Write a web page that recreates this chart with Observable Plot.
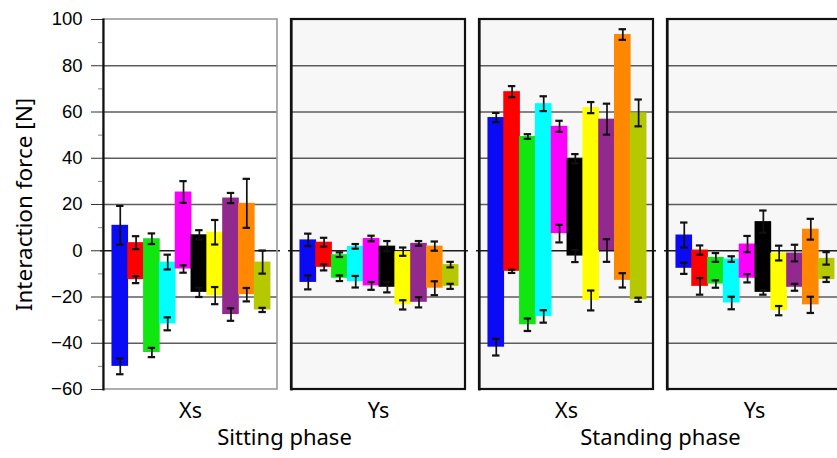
<!DOCTYPE html>
<html>
<head>
<meta charset="utf-8">
<script src="https://cdn.jsdelivr.net/npm/d3@7"></script>
<script src="https://cdn.jsdelivr.net/npm/@observablehq/plot@0.6"></script>
<style>
  html, body { margin: 0; padding: 0; background: #fff; }
  #wrap { width: 837px; height: 458px; overflow: hidden; position: relative; }
  #wrap svg { max-width: none !important; }
</style>
</head>
<body>
<div id="wrap"></div>
<script>
// ---- Data ----
const subjects = ["S1", "S2", "S3", "S4", "S5", "S6", "S7", "S8", "S9", "S10"];
const subjectColors = ["#0a0af5", "#ff0000", "#10e610", "#00ffff", "#ff00ff", "#000000", "#ffff00", "#922a8e", "#ff8800", "#b5c800"];
const panels = ["Sitting Xs", "Sitting Ys", "Standing Xs", "Standing Ys"];
const phaseLabels = ["Sitting phase", "Standing phase"];
const phasePanels = ["Sitting Ys", "Standing Ys"];
const yTicks = [-60, -40, -20, 0, 20, 40, 60, 80, 100];
const yMinorTicks = [-50, -30, -10, 10, 30, 50, 70, 90];
const gridValues = [-40, -20, 20, 40, 60, 80];

// Sitting phase, Xs
const sitXsHigh    = [11.0, 3.5, 5.2, -4.9, 25.4, 6.9, 8.0, 22.8, 20.5, -4.9];
const sitXsHighErr = [8.4, 2.8, 2.3, 3.2, 4.7, 2.0, 5.3, 2.2, 10.6, 5.0];
const sitXsLow     = [-50.0, -12.5, -44.0, -31.6, -7.9, -18.0, -19.4, -27.6, -19.0, -25.6];
const sitXsLowErr  = [3.4, 1.5, 2.0, 2.8, 1.6, 2.0, 3.7, 2.7, 2.9, 0.9];
// Sitting phase, Ys
const sitYsHigh    = [4.7, 3.7, -1.7, 1.9, 5.3, 2.0, -0.4, 3.2, 2.0, -6.0];
const sitYsHighErr = [2.7, 1.9, 1.0, 1.0, 1.2, 2.2, 1.8, 1.0, 2.0, 1.2];
const sitYsLow     = [-13.7, -7.2, -11.9, -13.4, -15.2, -15.8, -23.4, -22.3, -16.2, -15.4];
const sitYsLowErr  = [3.0, 1.3, 1.2, 2.5, 1.7, 2.2, 2.0, 2.2, 3.0, 1.1];
// Standing phase, Xs
const stdXsHigh    = [57.6, 68.8, 49.4, 63.6, 53.8, 39.8, 61.9, 56.9, 93.5, 59.6];
const stdXsHighErr = [2.0, 2.4, 1.0, 3.2, 2.4, 2.0, 2.4, 6.7, 2.3, 5.8];
const stdXsLow     = [-41.7, -8.9, -32.0, -28.4, 7.4, -2.3, -21.5, 0.1, -12.8, -21.2];
const stdXsLowErr  = [3.6, 0.7, 2.7, 2.7, 3.8, 2.6, 4.3, 4.9, 3.1, 0.9];
// Standing phase, Ys
const stdYsHigh    = [6.8, 0.3, -2.9, -3.6, 2.9, 12.6, -1.0, -1.0, 9.3, -3.3];
const stdYsHighErr = [5.4, 2.0, 1.9, 1.2, 3.5, 4.8, 3.2, 3.6, 4.5, 2.7];
const stdYsLow     = [-7.6, -15.4, -14.4, -22.6, -11.9, -18.0, -25.9, -15.8, -23.4, -12.5];
const stdYsLowErr  = [2.4, 3.6, 1.6, 2.7, 1.8, 1.0, 2.0, 1.5, 3.5, 1.0];

// ---- Build tables ----
const series = [
  [sitXsHigh, sitXsHighErr, sitXsLow, sitXsLowErr],
  [sitYsHigh, sitYsHighErr, sitYsLow, sitYsLowErr],
  [stdXsHigh, stdXsHighErr, stdXsLow, stdXsLowErr],
  [stdYsHigh, stdYsHighErr, stdYsLow, stdYsLowErr]
];
const rows = [];
const errs = [];
panels.forEach((p, pi) => {
  const [hi, hiE, lo, loE] = series[pi];
  subjects.forEach((s, i) => {
    rows.push({panel: p, subject: s, high: hi[i], low: lo[i]});
    errs.push({panel: p, subject: s, center: hi[i], err: hiE[i]});
    errs.push({panel: p, subject: s, center: lo[i], err: loE[i]});
  });
});
const caps = errs.flatMap(e => [
  {panel: e.panel, subject: e.subject, y: e.center + e.err},
  {panel: e.panel, subject: e.subject, y: e.center - e.err}
]);
const firstPanel = panels.slice(0, 1).map(p => ({panel: p}));
const otherPanels = panels.slice(1).map(p => ({panel: p}));
const phases = phaseLabels.map((t, i) => ({label: t, panel: phasePanels[i]}));

const font = "'Noto Sans', 'DejaVu Sans', sans-serif";

const chart = Plot.plot({
  width: 850,
  height: 458,
  marginLeft: 102,
  marginRight: 7,
  marginTop: 19,
  marginBottom: 69,
  style: {fontFamily: font, background: "white", color: "black", overflow: "visible", maxWidth: "none"},
  fx: {domain: panels, paddingInner: 0.0725, paddingOuter: 0, label: null},
  x: {domain: subjects, paddingInner: 0, paddingOuter: 0.5, align: 0.56, round: false, axis: null},
  y: {domain: [-60, 100], label: null},
  color: {domain: subjects, range: subjectColors},
  marks: [
    Plot.rect(firstPanel, {fx: "panel", fill: "white"}),
    Plot.rect(otherPanels, {fx: "panel", fill: "#f7f7f7"}),
    Plot.ruleY(gridValues, {stroke: "#5c5c5c", strokeWidth: 1.4}),
    Plot.ruleY([0], {stroke: "#1a1a1a", strokeWidth: 1.7, insetLeft: -3, insetRight: -3}),
    Plot.barY(rows, {fx: "panel", x: "subject", y1: "low", y2: "high", fill: "subject", insetLeft: -0.4, insetRight: -0.4}),
    Plot.ruleX(errs, {fx: "panel", x: "subject", y1: d => d.center - d.err, y2: d => d.center + d.err, stroke: "#111", strokeWidth: 1.7}),
    Plot.tickY(caps, {fx: "panel", x: "subject", y: "y", stroke: "#111", strokeWidth: 2.2, insetLeft: 4.2, insetRight: 4.2}),
    Plot.rect(firstPanel, {fx: "panel", fill: "none", stroke: "#9a9a9a", strokeWidth: 1.6}),
    Plot.rect(otherPanels, {fx: "panel", fill: "none", stroke: "#111", strokeWidth: 2.2}),
    Plot.axisY({ticks: yMinorTicks, tickSize: 5, tickFormat: () => "", label: null, stroke: "#888"}),
    Plot.axisY({ticks: yTicks, tickSize: 12, tickPadding: 9, fontSize: 18.5, fontFamily: "'Liberation Sans', Arial, sans-serif", label: null, stroke: "#333"}),
    Plot.axisY({ticks: [], tickSize: 0, label: "Interaction force [N]", labelAnchor: "center", labelArrow: false, labelOffset: 87, fontSize: 22.5}),
    Plot.frame({anchor: "left", stroke: "#111", strokeWidth: 2.2}),
    Plot.axisFx({anchor: "bottom", tickSize: 0, tickPadding: 13, fontSize: 21.5, label: null, tickFormat: d => d.split(" ")[1]}),
    Plot.text(phases, {fx: "panel", text: "label", frameAnchor: "bottom-left", dx: -7, dy: 55, textAnchor: "middle", fontSize: 22})
  ]
});
document.getElementById("wrap").appendChild(chart);
</script>
</body>
</html>
